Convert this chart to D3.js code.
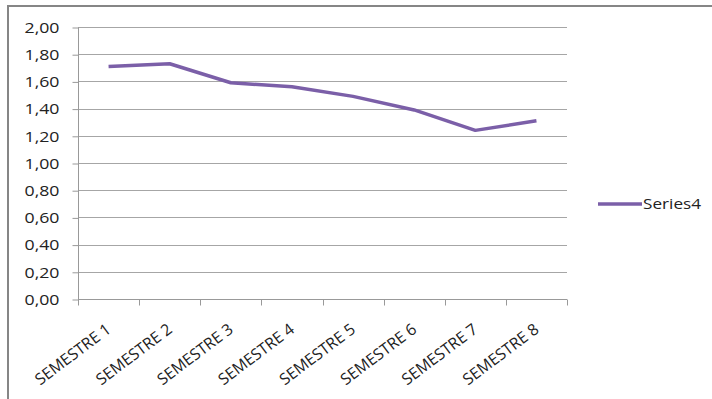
<!DOCTYPE html>
<html>
<head>
<meta charset="utf-8">
<script src="https://cdn.jsdelivr.net/npm/d3@7"></script>
<style>
  body { margin: 0; background: #fff; }
  text { font-family: "Open Sans", "Noto Sans", sans-serif; fill: #222; }
</style>
</head>
<body>
<svg width="712" height="399"></svg>
<script>
// chart data
var categories = ["SEMESTRE 1", "SEMESTRE 2", "SEMESTRE 3", "SEMESTRE 4",
                  "SEMESTRE 5", "SEMESTRE 6", "SEMESTRE 7", "SEMESTRE 8"];
var seriesName = "Series4";
var values = [1.71, 1.73, 1.59, 1.56, 1.49, 1.39, 1.24, 1.31];
var yTicks = [0, 0.2, 0.4, 0.6, 0.8, 1.0, 1.2, 1.4, 1.6, 1.8, 2.0];

var svg = d3.select("svg");

// outer chart frame
svg.append("rect")
    .attr("x", 8).attr("y", 6)
    .attr("width", 712).attr("height", 400)
    .attr("fill", "none")
    .attr("stroke", "#868686")
    .attr("stroke-width", 2);

// plot area bounds
var pLeft = 78, pRight = 567, pTop = 27, pBottom = 299;

var x = d3.scaleBand().domain(categories).range([pLeft, pRight]);
var y = d3.scaleLinear().domain([0, 2]).range([pBottom, pTop]);

// horizontal gridlines
svg.append("g")
  .selectAll("line")
  .data(yTicks.slice(1))
  .enter().append("line")
    .attr("x1", pLeft).attr("x2", pRight)
    .attr("y1", function(d) { return Math.round(y(d)) + 0.5; })
    .attr("y2", function(d) { return Math.round(y(d)) + 0.5; })
    .attr("stroke", "#a6a6a6");

// y axis
var yAxis = svg.append("g")
    .attr("transform", "translate(" + (pLeft + 0.5) + ",0.5)")
    .call(d3.axisLeft(y).tickValues(yTicks).tickSize(6).tickPadding(13)
      .tickFormat(function(d) { return d3.format(".2f")(d).replace(".", ","); }));
yAxis.select(".domain").attr("stroke", "#999").attr("d", "M0," + pTop + "V" + pBottom);
yAxis.selectAll(".tick line").attr("stroke", "#999");
yAxis.selectAll("text")
    .attr("fill", "#222")
    .attr("textLength", 35)
    .attr("lengthAdjust", "spacingAndGlyphs")
    .style("font-size", "15px")
    .style("font-family", "'Open Sans', sans-serif");

// x axis
var xTickPos = categories.map(function(c) { return x(c); }).concat([pRight]);
var xAxis = svg.append("g")
    .attr("transform", "translate(0," + (pBottom + 0.5) + ")");
xAxis.append("line")
    .attr("x1", pLeft).attr("x2", pRight)
    .attr("stroke", "#999");
xAxis.selectAll(".tk")
  .data(xTickPos)
  .enter().append("line")
    .attr("x1", function(d) { return Math.round(d) + 0.5; })
    .attr("x2", function(d) { return Math.round(d) + 0.5; })
    .attr("y1", 0).attr("y2", 6)
    .attr("stroke", "#999");
xAxis.selectAll("text")
  .data(categories)
  .enter().append("text")
    .attr("text-anchor", "end")
    .attr("transform", function(d) {
      return "translate(" + (x(d) + x.bandwidth() / 2 + 3.5) + ",32) rotate(-37)";
    })
    .attr("textLength", 90)
    .attr("lengthAdjust", "spacingAndGlyphs")
    .style("font-size", "16px")
    .text(function(d) { return d; });

// the line
var line = d3.line()
    .x(function(d, i) { return x(categories[i]) + x.bandwidth() / 2; })
    .y(function(d) { return y(d); });

svg.append("path")
    .datum(values)
    .attr("d", line)
    .attr("fill", "none")
    .attr("stroke", "#7b5fa8")
    .attr("stroke-width", 3.5)
    .attr("stroke-linejoin", "round");

// legend
var legend = svg.append("g").attr("transform", "translate(598,204)");
legend.append("line")
    .attr("x1", 0).attr("x2", 44)
    .attr("stroke", "#7b5fa8").attr("stroke-width", 3.5);
legend.append("text")
    .attr("x", 45).attr("dy", "0.35em")
    .attr("textLength", 58)
    .attr("lengthAdjust", "spacingAndGlyphs")
    .style("font-size", "15px")
    .text(seriesName);
</script>
</body>
</html>
